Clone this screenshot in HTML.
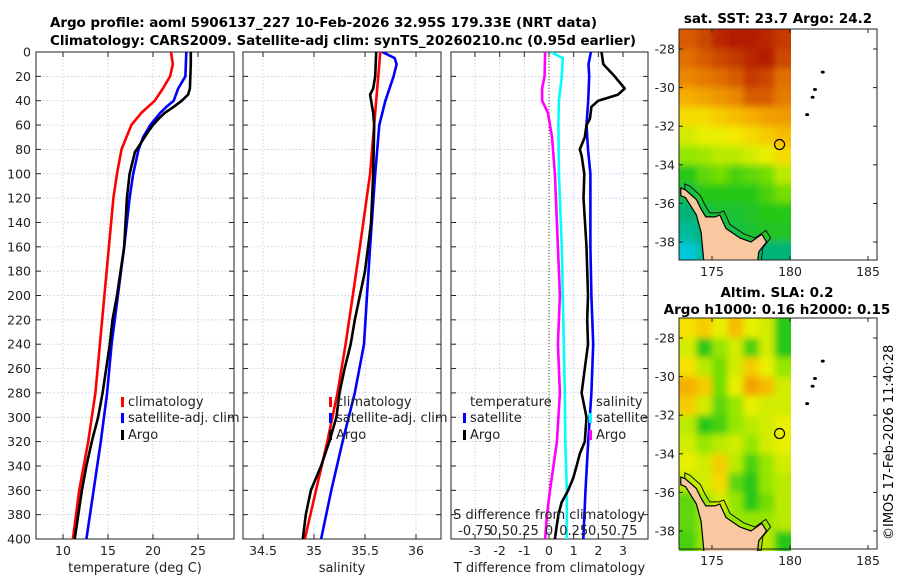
<!DOCTYPE html>
<html><head><meta charset="utf-8"><style>
body{margin:0;background:#fff}
svg{display:block;font-family:"DejaVu Sans","Liberation Sans",sans-serif}
</style></head><body>
<svg id="fig" width="900" height="580" viewBox="0 0 900 580">
<defs>
<clipPath id="clipTop"><rect x="679" y="29" width="112" height="231"/></clipPath>
<clipPath id="clipBot"><rect x="679" y="318" width="112" height="233"/></clipPath>
<filter id="blur" x="-10%" y="-10%" width="120%" height="120%"><feGaussianBlur stdDeviation="3.5"/></filter>
<clipPath id="c1"><rect x="36" y="52" width="198" height="487"/></clipPath>
<clipPath id="c2"><rect x="243" y="52" width="198" height="487"/></clipPath>
<clipPath id="c3"><rect x="451" y="52" width="197" height="487"/></clipPath>
</defs>
<text x="50" y="27" font-weight="bold" font-size="13.5" textLength="547">Argo profile: aoml 5906137_227 10-Feb-2026 32.95S 179.33E (NRT data)</text>
<text x="50" y="45" font-weight="bold" font-size="13.5" textLength="586">Climatology: CARS2009. Satellite-adj clim: synTS_20260210.nc (0.95d earlier)</text>
<text x="778" y="23" font-weight="bold" font-size="13.5" text-anchor="middle">sat. SST: 23.7 Argo: 24.2</text>
<text x="777" y="297" font-weight="bold" font-size="13.5" text-anchor="middle">Altim. SLA: 0.2</text>
<text x="777" y="314" font-weight="bold" font-size="13.5" text-anchor="middle">Argo h1000: 0.16 h2000: 0.15</text>
<text transform="translate(893,540) rotate(-90)" font-size="13">©IMOS 17-Feb-2026 11:40:28</text>
</svg>
<script>
// ---------- data ----------
const depthTicks=[0,20,40,60,80,100,120,140,160,180,200,220,240,260,280,300,320,340,360,380,400];
const tempTicks=[10,15,20,25];
const salTicks=[34.5,35,35.5,36];
const tdiffTicks=[-3,-2,-1,0,1,2,3];
const sdiffTicks=[-0.75,-0.5,-0.25,0,0.25,0.5,0.75];
const sdiffLabels=["-0.75","0.5","0.25","0","0.25","0.5","0.75"];

const tClimDepth=[0,10,20,30,40,50,60,80,100,120,160,200,240,280,320,360,400];
const tClim=[22.0,22.2,21.9,21.1,20.2,18.7,17.6,16.5,16.0,15.6,15.1,14.6,14.1,13.6,12.8,11.8,11.1];
const tSatDepth=[0,20,30,40,45,50,60,70,80,100,120,160,200,240,280,320,360,400];
const tSat=[23.7,23.6,22.8,22.3,21.5,20.8,19.7,18.9,18.4,17.8,17.4,16.8,16.1,15.4,14.9,14.2,13.4,12.6];
const tArgoDepth=[0,10,30,35,40,45,50,55,60,65,80,82,100,120,160,200,220,240,280,300,320,340,360,380,400];
const tArgo=[24.2,24.2,24.1,23.9,23.2,22.3,21.3,20.6,20.0,19.5,18.2,18.0,17.4,17.1,16.8,16.0,15.5,15.2,14.4,13.9,13.2,12.6,12.1,11.7,11.3];

const sClimDepth=[0,40,100,160,200,240,280,320,360,400];
const sClim=[35.65,35.61,35.55,35.45,35.38,35.31,35.23,35.13,35.02,34.91];
const sSatDepth=[0,5,10,20,40,60,100,160,200,240,280,320,360,400];
const sSat=[35.67,35.79,35.81,35.78,35.70,35.64,35.60,35.55,35.52,35.49,35.40,35.28,35.17,35.07];
const sArgoDepth=[0,20,30,35,40,50,60,100,140,160,180,200,220,240,260,280,300,320,340,360,380,400];
const sArgo=[35.61,35.60,35.58,35.55,35.56,35.58,35.59,35.58,35.56,35.53,35.50,35.45,35.40,35.36,35.30,35.25,35.22,35.15,35.07,34.97,34.92,34.89];

const dTSatDepth=[0,10,20,40,60,80,100,160,200,240,280,320,360,400];
const dTSat=[1.70,1.60,1.63,1.59,1.52,1.58,1.68,1.68,1.72,1.79,1.72,1.59,1.48,1.39];
const dTArgoDepth=[0,10,20,30,35,40,45,55,60,70,80,85,100,120,160,200,220,240,260,280,300,320,330,340,350,360,370,380,390,400];
const dTArgo=[2.13,2.20,2.66,3.07,2.80,2.00,1.72,1.66,1.52,1.45,1.25,1.32,1.43,1.40,1.52,1.58,1.55,1.58,1.45,1.32,1.52,1.45,1.25,1.12,0.98,0.78,0.51,0.38,0.31,0.24];
const dSSatDepth=[0,5,20,40,60,100,160,200,280,320,360,400];
const dSSat=[0.02,0.14,0.13,0.10,0.095,0.10,0.13,0.14,0.16,0.165,0.18,0.18];
const dSArgoDepth=[0,20,30,40,45,50,70,100,160,200,240,280,320,360,380,400];
const dSArgo=[-0.04,-0.045,-0.07,-0.07,-0.04,-0.01,0.03,0.06,0.09,0.11,0.09,0.11,0.08,0.01,-0.02,-0.04];

const latTicks=[-28,-30,-32,-34,-36,-38];
const lonTicks=[175,180,185];
const gridLat=[-27,-28,-29,-30,-31,-32,-33,-34,-35,-36,-37,-38];
const gridLon=[173,174,175,176,177,178,179];
const sstGrid=[
[0.85,0.88,0.93,0.95,0.95,0.93,0.90],
[0.82,0.85,0.88,0.90,0.93,0.95,0.88],
[0.78,0.80,0.82,0.85,0.90,0.88,0.82],
[0.72,0.74,0.76,0.78,0.85,0.85,0.80],
[0.66,0.66,0.68,0.70,0.72,0.74,0.75],
[0.60,0.62,0.62,0.64,0.66,0.68,0.70],
[0.55,0.56,0.58,0.58,0.60,0.62,0.66],
[0.45,0.50,0.52,0.48,0.50,0.52,0.58],
[0.40,0.45,0.45,0.45,0.45,0.48,0.52],
[0.35,0.40,0.42,0.42,0.43,0.45,0.45],
[0.30,0.35,0.40,0.40,0.42,0.43,0.43],
[0.20,0.30,0.35,0.38,0.38,0.35,0.35]];
const slaGrid=[
[0.65,0.68,0.62,0.70,0.62,0.60,0.45],
[0.60,0.45,0.55,0.60,0.48,0.60,0.45],
[0.65,0.58,0.52,0.60,0.68,0.62,0.55],
[0.72,0.68,0.52,0.62,0.74,0.70,0.60],
[0.68,0.60,0.50,0.55,0.62,0.60,0.60],
[0.58,0.45,0.48,0.55,0.58,0.60,0.62],
[0.60,0.55,0.58,0.60,0.55,0.60,0.62],
[0.62,0.60,0.68,0.58,0.48,0.55,0.60],
[0.58,0.60,0.66,0.50,0.45,0.55,0.58],
[0.50,0.55,0.60,0.55,0.45,0.52,0.58],
[0.50,0.55,0.55,0.55,0.55,0.55,0.58],
[0.48,0.55,0.55,0.55,0.55,0.58,0.45]];
const landLon=[173.0,173.3,174.0,174.3,174.6,175.2,175.5,175.9,176.8,177.5,178.2,178.5,178.0,177.9,174.5,174.3,174.0,173.3,173.0];
const landLat=[-35.2,-35.3,-35.8,-36.3,-36.7,-36.7,-36.6,-37.3,-37.8,-38.0,-37.6,-38.0,-38.5,-39.2,-39.2,-37.5,-36.6,-35.7,-35.6];
const islandLon=[182.1,181.6,181.45,181.1];
const islandLat=[-29.2,-30.1,-30.5,-31.4];
const floatLon=179.33, floatLat=-32.95;

// ---------- helpers ----------
const svg=document.getElementById('fig');
const NS='http://www.w3.org/2000/svg';
function mk(tag,attrs,parent){const e=document.createElementNS(NS,tag);for(const k in attrs)e.setAttribute(k,attrs[k]);(parent||svg).appendChild(e);return e;}
const Y0=52,Y1=539;
function yDepth(d){return Y0+d*(Y1-Y0)/400;}
function lin(d0,d1,r0,r1){return v=>r0+(v-d0)*(r1-r0)/(d1-d0);}

function panel(name,x0,x1,xs,ticks,labels,xlabel,showY){
  const g=mk('g',{});
  
  
  depthTicks.forEach(d=>{
    const y=yDepth(d);
    if(d>0&&d<400){const gl=mk('line',{x1:x0,x2:x1,y1:y,y2:y,stroke:'#b8bce0','stroke-width':0.7,'stroke-dasharray':'1.5,2'},g);
      
      }
    mk('line',{x1:x0,x2:x0+5,y1:y,y2:y,stroke:'#222'},g);
    mk('line',{x1:x1-5,x2:x1,y1:y,y2:y,stroke:'#222'},g);
    if(showY){const t=mk('text',{x:x0-5,y:y+4.5,'text-anchor':'end','font-size':12.5,fill:'#222'},g);t.textContent=d;
      
      }
  });
  ticks.forEach((v,i)=>{
    const x=xs(v);
    const gl=mk('line',{x1:x,x2:x,y1:Y0,y2:Y1,stroke:'#b8bce0','stroke-width':0.7,'stroke-dasharray':'1.5,2'},g);
    
    
    mk('line',{x1:x,x2:x,y1:Y1,y2:Y1-5,stroke:'#222'},g);
    mk('line',{x1:x,x2:x,y1:Y0,y2:Y0+5,stroke:'#222'},g);
    const t=mk('text',{x:x,y:555,'text-anchor':'middle','font-size':12.5,fill:'#222'},g);t.textContent=labels[i];
    
    
  });
  const r=mk('rect',{x:x0,y:Y0,width:x1-x0,height:Y1-Y0,fill:'none',stroke:'#222','stroke-width':1},g);
  
  
  const xl=mk('text',{x:(x0+x1)/2,y:572,'text-anchor':'middle','font-size':13,fill:'#222'},g);xl.textContent=xlabel;
  
  
  return g;
}
function line(name,xs,vals,depths,color,clip){
  const pts=vals.map((v,i)=>xs(v).toFixed(1)+','+yDepth(depths[i]).toFixed(1)).join(' ');
  const p=mk('polyline',{points:pts,fill:'none',stroke:color,'stroke-width':2.6,'stroke-linejoin':'round','clip-path':'url(#'+clip+')'});
  
  
}
function legend(x,y,color,label,name){
  const m=mk('rect',{x:x,y:y-9,width:3,height:10,fill:color});
  
  
  const t=mk('text',{x:x+7,y:y,'font-size':13,fill:'#222'});t.textContent=label;
  
  
}

// ---------- panel 1 temperature ----------
const xT=lin(10,25,63,198);
panel('temperature-panel',36,234,xT,tempTicks,tempTicks.map(String),'temperature (deg C)',true);
line('temp-climatology-line',xT,tClim,tClimDepth,'#ff0000','c1');
line('temp-satellite-line',xT,tSat,tSatDepth,'#0000ff','c1');
line('temp-argo-line',xT,tArgo,tArgoDepth,'#000000','c1');
legend(121,406,'#ff0000','climatology','legend-climatology');
legend(121,422,'#0000ff','satellite-adj. clim','legend-satellite');
legend(121,439,'#000000','Argo','legend-argo');

// ---------- panel 2 salinity ----------
const xS=lin(34.5,36,263,416);
panel('salinity-panel',243,441,xS,salTicks,salTicks.map(String),'salinity',false);
line('sal-climatology-line',xS,sClim,sClimDepth,'#ff0000','c2');
line('sal-satellite-line',xS,sSat,sSatDepth,'#0000ff','c2');
line('sal-argo-line',xS,sArgo,sArgoDepth,'#000000','c2');
legend(329,406,'#ff0000','climatology','legend2-climatology');
legend(329,422,'#0000ff','satellite-adj. clim','legend2-satellite');
legend(329,439,'#000000','Argo','legend2-argo');

// ---------- panel 3 differences ----------
const xD=lin(0,3,549,623);
const xSD=lin(0,0.75,549,623);
panel('difference-panel',451,648,xD,tdiffTicks,tdiffTicks.map(String),'T difference from climatology',false);
const zl=mk('line',{x1:xD(0),x2:xD(0),y1:Y0,y2:Y1,stroke:'#554422','stroke-width':1,'stroke-dasharray':'1,2'});


line('dsal-argo-line',xSD,dSArgo,dSArgoDepth,'#ff00ff','c3');
line('dsal-satellite-line',xSD,dSSat,dSSatDepth,'#00ffff','c3');
line('dtemp-satellite-line',xD,dTSat,dTSatDepth,'#0000ff','c3');
line('dtemp-argo-line',xD,dTArgo,dTArgoDepth,'#000000','c3');
let tt=mk('text',{x:470,y:406,'font-size':13,fill:'#222'});tt.textContent='temperature';


tt=mk('text',{x:596,y:406,'font-size':13,fill:'#222'});tt.textContent='salinity';


legend(463,422,'#0000ff','satellite','legend3-tsat');
legend(463,439,'#000000','Argo','legend3-targo');
legend(589,422,'#00ffff','satellite','legend3-ssat');
legend(589,439,'#ff00ff','Argo','legend3-sargo');
tt=mk('text',{x:549,y:519,'text-anchor':'middle','font-size':13,fill:'#222'});tt.textContent='S difference from climatology';


sdiffTicks.forEach((v,i)=>{
  const t=mk('text',{x:xSD(v),y:535,'text-anchor':'middle','font-size':13,fill:'#222'});t.textContent=sdiffLabels[i];
  
  
});

// ---------- maps ----------
const cmapStops=[0,0.2,0.35,0.45,0.55,0.63,0.72,0.82,0.92,1];
const cmapCols=[[30,100,255],[0,200,220],[0,180,120],[40,200,20],[150,230,0],[245,240,0],[245,175,0],[225,110,0],[190,45,0],[160,0,0]];
function cmap(v){
  let i=0;while(i<cmapStops.length-2&&v>cmapStops[i+1])i++;
  const t=Math.max(0,Math.min(1,(v-cmapStops[i])/(cmapStops[i+1]-cmapStops[i])));
  const a=cmapCols[i],b=cmapCols[i+1];
  return 'rgb('+[0,1,2].map(k=>Math.round(a[k]+(b[k]-a[k])*t)).join(',')+')';
}
function map(name,top,grid,clip){
  const bottom=top+231;
  const lonS=lin(175,180,712,790);
  const latS=lin(-28,-38,top+20,top+213);
  const g=mk('g',{});
  
  
  const hg=mk('g',{'clip-path':'url(#'+clip+')'},g);
  const bg=mk('g',{filter:'url(#blur)'},hg);
  grid.forEach((row,r)=>row.forEach((v,c)=>{
    let x=lonS(gridLon[c]),y=latS(gridLat[r]);
    let w=lonS(gridLon[c]+1)-x,h=latS(gridLat[r]-1)-y;
    let x2=x,y2=y,w2=w,h2=h;
    if(c===0){x2-=12;w2+=12;} if(c===row.length-1){w2+=12;}
    if(r===0){y2-=12;h2+=12;} if(r===grid.length-1){h2+=12;}
    const cell=mk('rect',{x:x2,y:y2,width:w2+0.5,height:h2+0.5,fill:cmap(v)},bg);
    
    
  }));
  const pts=landLon.map((lo,i)=>lonS(lo).toFixed(1)+','+latS(landLat[i]).toFixed(1)).join(' ');
  const cpts=landLon.map((lo,i)=>(lonS(lo)+4).toFixed(1)+','+(latS(landLat[i])-4).toFixed(1)).join(' ');
  const ct=mk('polygon',{points:cpts,fill:'none',stroke:'#111','stroke-width':1},hg);
  
  
  const land=mk('polygon',{points:pts,fill:'#f9c8a0',stroke:'#000','stroke-width':1.2},hg);
  
  
  islandLon.forEach((lo,i)=>{
    const d=mk('ellipse',{cx:lonS(lo),cy:latS(islandLat[i]),rx:2,ry:1.5,fill:'#000'},g);
    
    
  });
  const fc=mk('circle',{cx:lonS(floatLon),cy:latS(floatLat),r:5,fill:'none',stroke:'#000','stroke-width':1.2},g);
  
  
  latTicks.forEach(la=>{
    const y=latS(la);
    mk('line',{x1:679,x2:683,y1:y,y2:y,stroke:'#222'},g);
    mk('line',{x1:873,x2:877,y1:y,y2:y,stroke:'#222'},g);
    const t=mk('text',{x:675,y:y+4.5,'text-anchor':'end','font-size':12.5,fill:'#222'},g);t.textContent=la;
    
    
  });
  lonTicks.forEach(lo=>{
    const x=lonS(lo);
    mk('line',{x1:x,x2:x,y1:bottom,y2:bottom-4,stroke:'#222'},g);
    mk('line',{x1:x,x2:x,y1:top,y2:top+4,stroke:'#222'},g);
    const t=mk('text',{x:x,y:bottom+16,'text-anchor':'middle','font-size':12.5,fill:'#222'},g);t.textContent=lo;
    
    
  });
  const b=mk('rect',{x:679,y:top,width:198,height:231,fill:'none',stroke:'#222'},g);
  
  
}
map('sst-map',29,sstGrid,'clipTop');
map('sla-map',318,slaGrid,'clipBot');
</script>
</body></html>
